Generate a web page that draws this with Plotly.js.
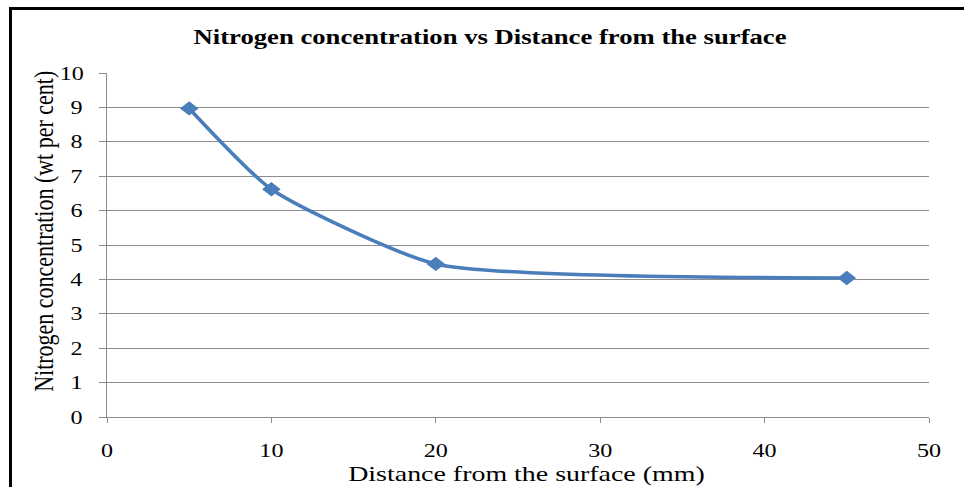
<!DOCTYPE html>
<html>
<head>
<meta charset="utf-8">
<script src="https://cdn.plot.ly/plotly-3.0.1.min.js"></script>
<style>
  html, body { margin: 0; padding: 0; background: #fff; }
  #chart { width: 964px; height: 487px; }
</style>
</head>
<body>
<div id="chart"></div>
<script>
// Distance below the surface (mm) and measured nitrogen content (wt %)
const distanceMm = [5, 10, 20, 45];
const nitrogenWt = [8.97, 6.62, 4.45, 4.04];

const xTicks = [0, 10, 20, 30, 40, 50];
const yTicks = [0, 1, 2, 3, 4, 5, 6, 7, 8, 9, 10];

const chartTitle = 'Nitrogen concentration vs Distance from the surface';
const xTitle = 'Distance from the surface (mm)';
const yTitle = 'Nitrogen concentration (wt per cent)';

const serif = 'Liberation Serif, Times New Roman, serif';
const blue = '#4A7EBB';
const gridGray = '#8c8c8c';
// wide-set lettering used throughout the chart
const WIDE = 1.27;

const trace = {
  x: distanceMm,
  y: nitrogenWt,
  type: 'scatter',
  mode: 'lines+markers',
  line: { color: blue, width: 3.6, shape: 'spline', smoothing: 0.55 },
  marker: { symbol: 'diamond', size: 11, color: blue },
  hoverinfo: 'x+y'
};

const layout = {
  width: 964,
  height: 487,
  margin: { l: 107, r: 35, t: 73, b: 70 },
  paper_bgcolor: '#ffffff',
  plot_bgcolor: '#ffffff',
  showlegend: false,
  font: { family: serif, color: '#000', size: 19 },
  title: {
    text: '<b>' + chartTitle + '</b>',
    font: { family: serif, size: 21, color: '#000' },
    xref: 'paper', yref: 'paper',
    x: 0.466, xanchor: 'center',
    y: 1.09, yanchor: 'middle'
  },
  xaxis: {
    range: [0, 50],
    tickvals: xTicks,
    ticktext: xTicks.map(String),
    showgrid: false,
    zeroline: false,
    showline: true,
    linecolor: gridGray,
    linewidth: 1,
    ticks: 'outside',
    ticklen: 5,
    tickcolor: gridGray,
    ticklabelstandoff: 11,
    tickfont: { family: serif, size: 19, color: '#000' },
    fixedrange: true
  },
  yaxis: {
    range: [0, 10],
    tickvals: yTicks,
    ticktext: yTicks.map(String),
    showgrid: true,
    gridcolor: gridGray,
    gridwidth: 1,
    zeroline: false,
    showline: true,
    linecolor: gridGray,
    linewidth: 1,
    ticks: 'outside',
    ticklen: 7,
    tickcolor: gridGray,
    ticklabelstandoff: 14,
    tickfont: { family: serif, size: 19, color: '#000' },
    fixedrange: true
  },
  annotations: [
    {
      text: xTitle, xref: 'paper', yref: 'paper',
      x: 0.510, y: -0.163, xanchor: 'center', yanchor: 'middle',
      showarrow: false, font: { family: serif, size: 22, color: '#000' }
    },
    {
      text: yTitle, xref: 'paper', yref: 'paper', textangle: -90,
      x: -0.0766, y: 0.538, xanchor: 'center', yanchor: 'middle',
      showarrow: false, font: { family: serif, size: 22, color: '#000' }
    }
  ],
  shapes: [
    // chart frame: left and top edges
    {
      type: 'path', xref: 'paper', yref: 'paper',
      path: 'M -0.1174 -0.3 L -0.1174 1.1875 L 1.2 1.1875',
      line: { color: '#000', width: 3 }
    }
  ]
};

// Widen an element horizontally (in screen space) about its own centre.
function widen(el, s) {
  const r = el.getBoundingClientRect();
  if (!r.width) return;
  const cx = r.left + r.width / 2;
  const P = el.parentNode.getScreenCTM();
  const S = new DOMMatrix([s, 0, 0, 1, cx - s * cx, 0]);
  const t = el.transform.baseVal.consolidate();
  const E = t ? DOMMatrix.fromMatrix(t.matrix) : new DOMMatrix();
  const M = DOMMatrix.fromMatrix(P).inverse().multiply(S).multiply(DOMMatrix.fromMatrix(P)).multiply(E);
  el.setAttribute('transform', `matrix(${M.a},${M.b},${M.c},${M.d},${M.e},${M.f})`);
}

Plotly.newPlot('chart', [trace], layout, { displayModeBar: false, staticPlot: true }).then(gd => {
  gd.querySelectorAll('svg text').forEach(el => {
    if (el.textContent.trim()) widen(el, WIDE);
  });
  gd.querySelectorAll('.scatterlayer path.point').forEach(el => widen(el, 1.3));
});
</script>
</body>
</html>
